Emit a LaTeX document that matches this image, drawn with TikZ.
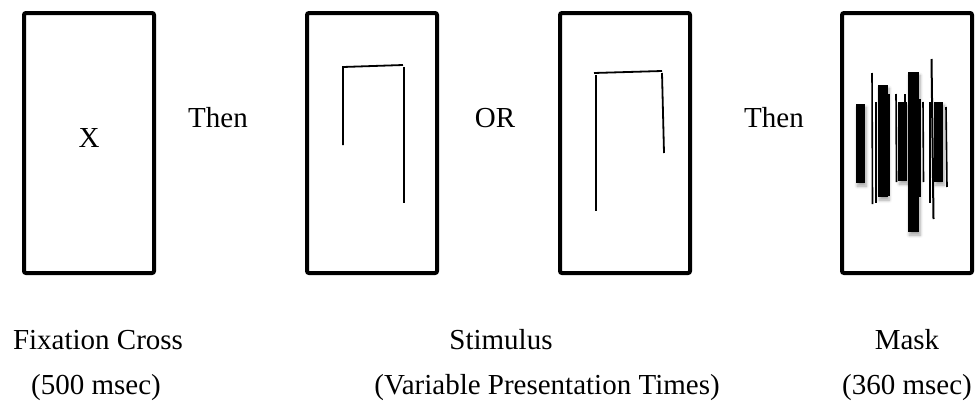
\documentclass[tikz,border=0pt]{standalone}
\usepackage{fontspec}
\setmainfont{Liberation Serif}
\usetikzlibrary{shadows.blur}
\begin{document}
\begin{tikzpicture}[x=0.5pt,y=-0.5pt,
  frame/.style={draw=black,line width=2pt,rounded corners=1pt,minimum width=65pt,minimum height=130pt,inner sep=0pt},
  lbl/.style={anchor=base,inner sep=0pt,font=\fontsize{14.5}{17}\selectfont},
  stim/.style={line width=0.9pt,line cap=butt},
  thinbar/.style={line width=0.8pt},
  bar/.style={fill=black,blur shadow={shadow xshift=0.6pt,shadow yshift=-1.6pt,shadow blur steps=6,shadow opacity=35,shadow blur radius=1.5pt}}]
\useasboundingbox (0,0) rectangle (979,407);
% frames
\node[frame] (b1) at (89,143) {};
\node[frame] (b2) at (372,143) {};
\node[frame] (b3) at (625,143) {};
\node[frame] (b4) at (907,143) {};
% fixation
\node[lbl] (fx) at (89,147) {X};
% between labels
\node[lbl] (then1) at (218,127) {Then};
\node[lbl] (or) at (495,127) {OR};
\node[lbl] (then2) at (774,127) {Then};
% stimulus 1
\draw[stim] (343,145) -- (343,67) -- (403,65);
\draw[stim] (404,67) -- (404,203);
% stimulus 2
\draw[stim] (594,73) -- (662,71);
\draw[stim] (596,75) -- (596,211);
\draw[stim] (662,73) -- (664,153);
% mask
\fill[bar] (856,104) rectangle (865,183);
\fill[bar] (878,85) rectangle (888,197);
\fill[bar] (898,102) rectangle (907,181);
\fill[bar] (908,72) rectangle (919,232);
\fill[bar] (934,102) rectangle (943,182);
\draw[thinbar] (872,73) -- (872.5,204);
\draw[thinbar] (876,102) -- (876,203);
\draw[thinbar] (889,94) -- (889,196);
\draw[thinbar] (896,94) -- (896.5,182);
\draw[thinbar] (905,94) -- (905,181);
\draw[thinbar] (908.5,94) -- (908.5,203);
\draw[thinbar] (920,99) -- (920,197);
\draw[thinbar] (923,102) -- (923.5,182);
\draw[thinbar] (930,102) -- (930,203);
\draw[line width=1pt] (931.5,59) -- (933.5,219);
\draw[thinbar] (946,107) -- (947,187);
% captions
\node[lbl] (c1) at (98,349) {Fixation Cross};
\node[lbl] (c2) at (501,349) {Stimulus};
\node[lbl] (c3) at (907,349) {Mask};
\node[lbl] (d1) at (96,394) {(500 msec)};
\node[lbl] (d2) at (547,394) {(Variable Presentation Times)};
\node[lbl] (d3) at (907,394) {(360 msec)};
\end{tikzpicture}
\end{document}
